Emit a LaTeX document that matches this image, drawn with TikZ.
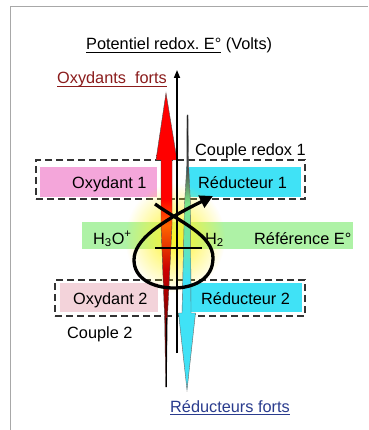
\documentclass[tikz,border=0pt]{standalone}
\usepackage{fontspec}
\setmainfont{Liberation Sans}
\usetikzlibrary{arrows.meta,fadings}
\definecolor{oxred}{HTML}{8B1C1C}
\definecolor{redblue}{HTML}{2A3C8E}
\definecolor{pinkA}{HTML}{F4A6DA}
\definecolor{pinkB}{HTML}{F3D3DA}
\definecolor{cyanA}{HTML}{40E2F6}
\definecolor{greenA}{HTML}{AEF2A6}
\definecolor{greenB}{HTML}{7CE68A}
\definecolor{framec}{HTML}{A8A8A8}
\definecolor{dashc}{HTML}{333333}
\frenchspacing
\newcommand{\myul}[1]{\setbox0\hbox{#1}\rlap{\rule[-2.8pt]{\wd0}{0.9pt}}\box0\relax}
\pgfdeclareverticalshading{redarrow}{100bp}{color(0bp)=(black!85!red); color(25bp)=(black!85!red); color(35bp)=(red!45!black); color(45bp)=(red!80!black); color(52.5bp)=(orange!80!red); color(57bp)=(red); color(100bp)=(red)}
\pgfdeclareverticalshading{cyanarrow}{100bp}{color(0bp)=(cyanA); color(45bp)=(cyanA); color(52.5bp)=(greenB!70!cyanA); color(59bp)=(greenB); color(65bp)=(black!70); color(75bp)=(black); color(100bp)=(black)}
\tikzfading[name=glowfade, inner color=transparent!0, outer color=transparent!100]
\begin{document}
\begin{tikzpicture}[x=1pt,y=-1pt,
  txt/.style={inner sep=0pt, anchor=base west, font=\fontsize{16.3}{19}\selectfont},
  couple/.style={draw=dashc, line width=1.5pt, dash pattern=on 7pt off 4pt, inner sep=0pt},
  fbox/.style={draw=none, inner sep=0pt, minimum height=30pt},
  axis/.style={line width=1.6pt, -{Triangle[length=8pt,width=6pt]}},
  loopline/.style={line width=3.3pt, -{Triangle[length=13pt,width=13pt]}}]
\useasboundingbox (0,0) rectangle (368,430);
\fill[white] (0,0) rectangle (368,430);
\draw[framec, line width=1pt] (10,430) -- (10,7) -- (368,7);

% dashed couple boxes
\node[couple, minimum width=269pt, minimum height=39pt] (c1) at (170.5,179.5) {};
\node[couple, minimum width=250pt, minimum height=36pt] (c2) at (180,298) {};

% coloured boxes
\node[fbox, fill=pinkA, minimum width=117pt] (ox1) at (98.5,182) {};
\node[fbox, fill=cyanA, minimum width=115pt] (red1) at (243.5,182) {};
\node[fbox, fill=greenA, minimum width=271pt, minimum height=27pt] (ref) at (217.5,235.5) {};
\node[fbox, fill=pinkB, minimum width=98pt, minimum height=29pt] (ox2) at (109,297.5) {};
\node[fbox, fill=cyanA, minimum width=115pt, minimum height=29pt] (red2) at (244.5,297.5) {};

% glow
\fill[yellow!85!white, path fading=glowfade] (175,238) ellipse [x radius=50pt, y radius=55pt];

% red arrow (oxydants)
\shade[shading=redarrow, draw=black!70, line width=0.4pt]
  (166,93) -- (177,160) -- (172,160) -- (172,225) -- (167.3,320) -- (166.5,387)
  -- (165.7,387) -- (164.7,320) -- (161,225) -- (161,160) -- (156,160) -- cycle;
\draw[line width=1pt] (166,318) -- (166,387);

% cyan arrow (reducteurs)
\shade[shading=cyanarrow, draw=black!60, line width=0.4pt]
  (187,115) -- (188,115) -- (188.6,165) -- (190.5,205) -- (191,313) -- (195.5,313) -- (187,390)
  -- (178.5,313) -- (182,313) -- (184.5,205) -- (186.8,165) -- cycle;

% axis
\coordinate (axbot) at (177,353);
\coordinate (axtop) at (177,70);
\draw[axis] (axbot) -- (axtop);

% reference line
\coordinate (hl) at (155,248);
\coordinate (hr) at (202,248);
\draw[line width=1.2pt] (hl) -- (hr);

% loop
\coordinate (lstart) at (155,204);
\coordinate (lend) at (213,196);
\draw[loopline] (lstart) .. controls (180,222) and (213,235) .. (213,258)
  .. controls (213,280) and (192,288) .. (174,288)
  .. controls (152,288) and (134,278) .. (134,260)
  .. controls (134,240) and (160,222) .. (lend);

% texts
\node[txt] (title) at (86,50) {\myul{Potentiel redox. E°} (Volts)};
\node[txt, text=oxred] (oxf) at (57,84) {\myul{Oxydants\ \ forts}};
\node[txt] (cr1) at (195,156) {Couple redox 1};
\node[txt] (tox1) at (72,189) {Oxydant 1};
\node[txt] (tred1) at (198,189) {Réducteur 1};
\node[txt] (th3o) at (93,244) {H\textsubscript{3}O\textsuperscript{+}};
\node[txt] (th2) at (205,244) {H\textsubscript{2}};
\node[txt] (tref) at (254,244) {Référence E°};
\node[txt] (tox2) at (73,304) {Oxydant 2};
\node[txt] (tred2) at (201,304) {Réducteur 2};
\node[txt] (tc2) at (67,338) {Couple 2};
\node[txt, text=redblue] (rf) at (170,412) {\myul{Réducteurs forts}};
\end{tikzpicture}
\end{document}
